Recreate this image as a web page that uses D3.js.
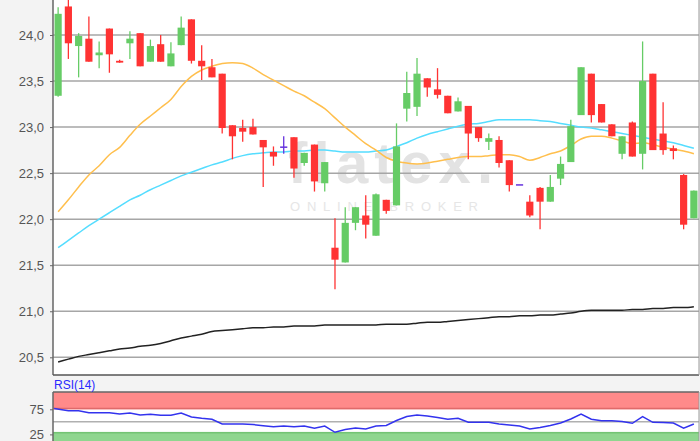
<!DOCTYPE html>
<html>
<head>
<meta charset="utf-8">
<script src="https://cdn.jsdelivr.net/npm/d3@7"></script>
<style>
html,body{margin:0;padding:0;background:#f3f3f3;}
svg{display:block;}
</style>
</head>
<body>
<svg id="chart" width="700" height="441"></svg>
<script>
// ---- data ----
const opens  = [23.34,24.31,23.88,23.96,23.78,24.07,23.72,23.91,24.02,23.71,23.90,23.66,23.89,24.17,23.72,23.65,23.58,23.02,22.99,23.00,22.86,22.73,22.79,22.89,22.61,22.81,22.39,21.69,21.53,21.96,22.04,21.82,22.21,22.15,23.20,23.22,23.53,23.41,23.34,23.17,23.23,23.00,22.84,22.86,22.64,22.38,22.19,22.34,22.19,22.44,22.62,23.13,23.58,23.25,23.03,22.71,23.05,22.71,23.58,22.93,22.77,22.48,22.01];
const highs  = [24.30,24.45,24.02,24.20,23.93,24.07,23.73,24.04,24.02,23.95,24.00,23.92,24.20,24.17,23.89,23.74,23.58,23.02,23.08,23.09,22.86,22.79,22.90,22.89,22.72,22.81,22.62,22.01,22.13,22.13,22.26,22.28,22.21,23.04,23.60,23.75,23.53,23.64,23.34,23.32,23.23,23.00,22.93,22.90,22.64,22.38,22.26,22.35,22.48,22.68,23.08,23.65,23.58,23.25,23.03,22.90,23.06,23.93,23.58,23.27,22.80,22.49,22.31];
const lows   = [23.33,23.74,23.54,23.71,23.64,23.59,23.70,23.74,23.66,23.71,23.71,23.66,23.89,23.69,23.51,23.54,22.93,22.65,22.84,22.92,22.35,22.58,22.71,22.45,22.58,22.30,22.30,21.24,21.53,21.88,21.79,21.82,22.06,22.15,23.06,23.12,23.33,23.31,23.15,23.17,22.65,22.84,22.75,22.56,22.30,22.38,22.02,21.89,22.19,22.37,22.62,23.13,23.05,23.05,22.90,22.65,22.68,22.54,22.75,22.70,22.65,21.89,22.01];
const closes = [24.23,23.91,23.99,23.71,23.81,23.79,23.70,23.96,23.66,23.88,23.71,23.80,24.08,23.72,23.66,23.54,22.99,22.90,22.95,22.92,22.78,22.68,22.79,22.55,22.72,22.41,22.62,21.56,21.96,22.13,21.94,22.27,22.09,22.79,23.37,23.58,23.43,23.35,23.15,23.28,22.93,22.88,22.88,22.61,22.37,22.38,22.04,22.19,22.35,22.60,23.01,23.65,23.13,23.05,22.90,22.90,22.68,23.50,22.75,22.75,22.74,21.94,22.31];
const maShort = [22.08,22.21,22.35,22.48,22.58,22.70,22.78,22.91,23.03,23.12,23.21,23.30,23.44,23.55,23.62,23.66,23.69,23.70,23.69,23.64,23.57,23.51,23.45,23.39,23.34,23.27,23.20,23.10,23.00,22.91,22.82,22.75,22.67,22.63,22.61,22.60,22.61,22.63,22.65,22.67,22.68,22.68,22.69,22.70,22.70,22.68,22.64,22.67,22.71,22.74,22.80,22.87,22.90,22.90,22.88,22.85,22.82,22.83,22.81,22.78,22.76,22.74,22.71];
const maMid = [21.69,21.77,21.85,21.93,22.00,22.07,22.14,22.21,22.26,22.32,22.37,22.42,22.47,22.51,22.55,22.59,22.62,22.66,22.69,22.71,22.72,22.73,22.73,22.74,22.74,22.75,22.75,22.74,22.73,22.73,22.73,22.74,22.75,22.79,22.83,22.88,22.92,22.95,22.98,23.01,23.03,23.04,23.06,23.08,23.08,23.08,23.08,23.07,23.06,23.04,23.02,23.00,22.99,22.97,22.95,22.93,22.91,22.89,22.87,22.85,22.83,22.80,22.77];
const maLong = [20.45,20.48,20.51,20.53,20.55,20.57,20.59,20.60,20.62,20.63,20.65,20.68,20.71,20.73,20.75,20.78,20.79,20.80,20.81,20.82,20.82,20.83,20.83,20.84,20.84,20.84,20.85,20.85,20.85,20.85,20.85,20.85,20.86,20.86,20.86,20.87,20.88,20.88,20.89,20.90,20.91,20.92,20.93,20.94,20.94,20.95,20.95,20.96,20.96,20.97,20.98,21.00,21.01,21.01,21.01,21.01,21.02,21.02,21.03,21.03,21.04,21.04,21.05];
const rsi = [76.6,72.2,72.2,68.2,68.2,68.2,65.6,67.6,63.6,65.2,63.0,63.0,67.6,59.7,57.1,55.1,45.7,45.7,45.7,44.7,42.3,40.3,41.7,40.3,41.7,37.2,41.7,29.2,34.8,37.7,35.8,41.7,42.7,52.7,60.7,63.6,61.6,58.7,55.1,57.1,49.1,49.1,49.1,45.7,43.7,41.7,35.8,38.7,42.7,47.7,55.7,65.6,55.1,52.3,52.3,50.7,47.1,60.3,49.1,48.7,47.7,37.2,45.7];
const priceTicks = [20.5,21.0,21.5,22.0,22.5,23.0,23.5,24.0];
const rsiTicks = [25,50,75];
const rsiLabelTicks = [25,75];
const rsiBands = {low:30, high:75};

// ---- layout ----
const svg = d3.select("#chart");
const L = 53, R = 699, T = 0, B = 375;
const RT = 392, RB = 441;
const n = opens.length;

const x = d3.scaleBand().domain(d3.range(n)).range([L, R]).paddingInner(0.3).paddingOuter(0.15);
const cx = i => x(i) + x.bandwidth()/2;
const y = d3.scaleLinear().domain([20.5, 24.0]).range([357.3, 35]);
const yr = d3.scaleLinear().domain([25, 75]).range([434.4, 409.3]);

// main panel background
svg.append("rect").attr("x", L).attr("y", T).attr("width", R-L).attr("height", B-T).attr("fill", "#fff");

// watermark
svg.append("text").attr("x", 288).attr("y", 183).attr("font-family", "Liberation Sans, Arial, sans-serif")
  .attr("font-weight", "bold").attr("font-size", 58).attr("fill", "#e3e3e3").attr("textLength", 205)
  .text("flatex.");
svg.append("text").attr("x", 290).attr("y", 211).attr("font-family", "Liberation Sans, Arial, sans-serif")
  .attr("font-size", 13).attr("fill", "#e6e6e6").attr("textLength", 188).attr("lengthAdjust", "spacing")
  .text("ONLINE BROKER");

// grid
svg.append("g").selectAll("line").data(priceTicks).join("line")
  .attr("x1", L).attr("x2", R).attr("y1", d => y(d)).attr("y2", d => y(d))
  .attr("stroke", "#a6a6a6").attr("stroke-width", 1.5);

// y axis
const yAxis = d3.axisLeft(y).tickValues(priceTicks).tickSize(3).tickFormat(d => d3.format(".1f")(d).replace(".", ","));
const ga = svg.append("g").attr("transform", `translate(${L},0)`).call(yAxis);
ga.select(".domain").remove();
ga.selectAll(".tick line").attr("stroke", "#666");
ga.selectAll(".tick text").attr("font-family", "Liberation Sans, Arial, sans-serif").attr("font-size", 13).attr("fill", "#555").attr("x", -9);

// moving averages
const line = arr => d3.line().x((d, i) => cx(i)).y(d => y(d)).curve(d3.curveMonotoneX)(arr);
svg.append("path").attr("d", line(maLong)).attr("fill", "none").attr("stroke", "#222").attr("stroke-width", 1.5);
svg.append("path").attr("d", line(maMid)).attr("fill", "none").attr("stroke", "#55ddff").attr("stroke-width", 1.5);
svg.append("path").attr("d", line(maShort)).attr("fill", "none").attr("stroke", "#ffbf4d").attr("stroke-width", 1.5);

// candles
const idx = d3.range(n);
const col = i => closes[i] > opens[i] ? "#66cc66" : (closes[i] < opens[i] ? "#ff3333" : "#6633dd");
const cg = svg.append("g");
cg.selectAll("line.wick").data(idx).join("line").attr("class", "wick")
  .attr("x1", i => cx(i)).attr("x2", i => cx(i))
  .attr("y1", i => y(highs[i])).attr("y2", i => y(lows[i]))
  .attr("stroke", col).attr("stroke-width", 1.3);
cg.selectAll("rect.body").data(idx).join("rect").attr("class", "body")
  .attr("x", i => x(i)).attr("width", x.bandwidth())
  .attr("y", i => y(Math.max(opens[i], closes[i])))
  .attr("height", i => Math.max(1.5, y(Math.min(opens[i], closes[i])) - y(Math.max(opens[i], closes[i]))))
  .attr("fill", col);

// main borders
svg.append("line").attr("x1", L).attr("x2", L).attr("y1", T).attr("y2", B).attr("stroke", "#666").attr("stroke-width", 1.5);
svg.append("line").attr("x1", L).attr("x2", R).attr("y1", B).attr("y2", B).attr("stroke", "#555").attr("stroke-width", 1.5);
svg.append("line").attr("x1", R).attr("x2", R).attr("y1", T).attr("y2", B).attr("stroke", "#999").attr("stroke-width", 1);

// RSI panel
svg.append("rect").attr("x", L).attr("y", RT).attr("width", R-L).attr("height", RB-RT).attr("fill", "#fff");
svg.append("rect").attr("x", L).attr("y", RT).attr("width", R-L).attr("height", yr(rsiBands.high)-RT).attr("fill", "#ff8a8a");
svg.append("line").attr("x1", L).attr("x2", R).attr("y1", yr(rsiBands.high)-0.8).attr("y2", yr(rsiBands.high)-0.8).attr("stroke", "#e06a6a").attr("stroke-width", 1.5);
svg.append("rect").attr("x", L).attr("y", yr(rsiBands.low)).attr("width", R-L).attr("height", RB-yr(rsiBands.low)).attr("fill", "#8fd68f");
svg.append("line").attr("x1", L).attr("x2", R).attr("y1", yr(rsiBands.low)+0.8).attr("y2", yr(rsiBands.low)+0.8).attr("stroke", "#74c474").attr("stroke-width", 1.5);
svg.append("line").attr("x1", L).attr("x2", R).attr("y1", yr(50)).attr("y2", yr(50)).attr("stroke", "#b0b0b0").attr("stroke-width", 1.5);

const rAxis = d3.axisLeft(yr).tickValues(rsiLabelTicks).tickSize(3);
const gr = svg.append("g").attr("transform", `translate(${L},0)`).call(rAxis);
gr.select(".domain").remove();
gr.selectAll(".tick line").attr("stroke", "#666");
gr.selectAll(".tick text").attr("font-family", "Liberation Sans, Arial, sans-serif").attr("font-size", 13).attr("fill", "#555").attr("x", -9);

const rline = d3.line().x((d, i) => i === 0 ? cx(0) - 4 : cx(i)).y(d => yr(d));
svg.append("path").attr("d", rline(rsi)).attr("fill", "none").attr("stroke", "#3333ee").attr("stroke-width", 1.5);

svg.append("line").attr("x1", L).attr("x2", R).attr("y1", RT).attr("y2", RT).attr("stroke", "#666").attr("stroke-width", 1.5);
svg.append("line").attr("x1", L).attr("x2", L).attr("y1", RT).attr("y2", RB).attr("stroke", "#666").attr("stroke-width", 1.5);
svg.append("line").attr("x1", R).attr("x2", R).attr("y1", RT).attr("y2", RB).attr("stroke", "#999").attr("stroke-width", 1);

svg.append("text").attr("x", 54).attr("y", 389).attr("font-family", "Liberation Sans, Arial, sans-serif")
  .attr("font-size", 12).attr("fill", "#2a2aff").text("RSI(14)");
</script>
</body>
</html>
